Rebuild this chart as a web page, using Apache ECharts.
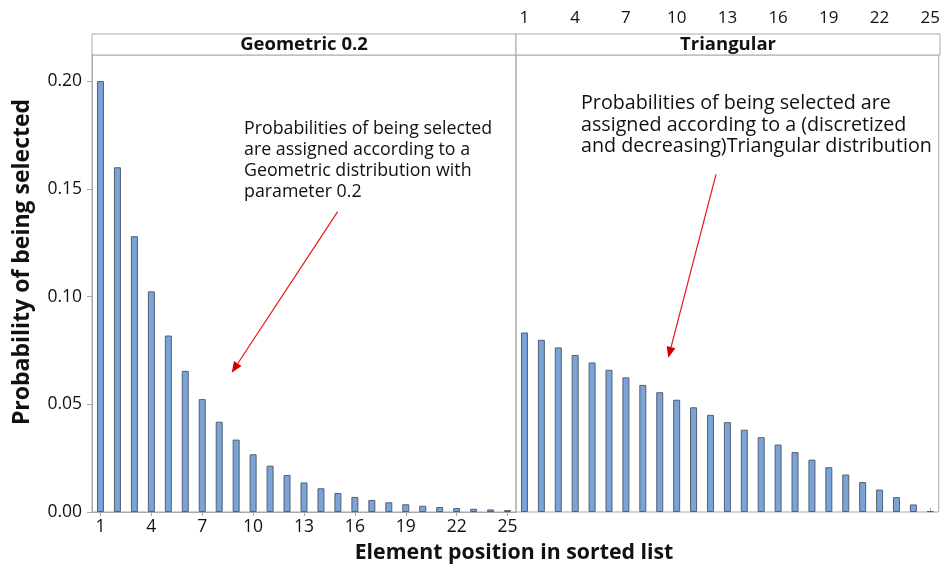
<!DOCTYPE html>
<html>
<head>
<meta charset="utf-8">
<title>Selection probabilities by position</title>
<script src="https://cdn.jsdelivr.net/npm/echarts@6/dist/echarts.min.js"></script>
<style>
  html, body { margin: 0; padding: 0; background: #fff; }
  #chart { width: 943px; height: 567px; }
</style>
</head>
<body>
<div id="chart"></div>
<script>
// Element positions in the sorted list
const positions = ['1','2','3','4','5','6','7','8','9','10','11','12','13',
  '14','15','16','17','18','19','20','21','22','23','24','25'];

// Geometric(0.2) selection probabilities
const geometricProb = [0.2000, 0.1600, 0.1280, 0.1024, 0.0819, 0.0655, 0.0524,
  0.0419, 0.0336, 0.0268, 0.0215, 0.0172, 0.0137, 0.0110, 0.0088, 0.0070,
  0.0056, 0.0045, 0.0036, 0.0029, 0.0023, 0.0018, 0.0015, 0.0012, 0.0009];

// Discretized, decreasing triangular selection probabilities
const triangularProb = [0.0833, 0.0799, 0.0764, 0.0729, 0.0694, 0.0660, 0.0625,
  0.0590, 0.0556, 0.0521, 0.0486, 0.0451, 0.0417, 0.0382, 0.0347, 0.0313,
  0.0278, 0.0243, 0.0208, 0.0174, 0.0139, 0.0104, 0.0069, 0.0035, 0.0004];

const yTicks = [0, 0.05, 0.10, 0.15, 0.20];
const panelTitles = ['Geometric 0.2', 'Triangular'];
const notes = [
  ['Probabilities of being selected', 'are assigned according to a',
   'Geometric distribution with', 'parameter 0.2'],
  ['Probabilities of being selected are', 'assigned according to a (discretized',
   'and decreasing)Triangular distribution']
];

const FONT = '"Open Sans", "Noto Sans", sans-serif';
const frame = '#a9a9a9';
const ink = '#111';

const chart = echarts.init(document.getElementById('chart'), null, { renderer: 'canvas' });

const P = { left: 92, top: 55, w: 424, h: 457, strip: 21 };

function arrow(x1, y1, x2, y2) {
  const ang = Math.atan2(y2 - y1, x2 - x1);
  const L = 11, W = 4.5;
  const bx = x2 - L * Math.cos(ang), by = y2 - L * Math.sin(ang);
  const nx = -Math.sin(ang) * W, ny = Math.cos(ang) * W;
  return [
    { type: 'line', shape: { x1: x1, y1: y1, x2: bx, y2: by },
      style: { stroke: '#e8141b', lineWidth: 1.2 }, z: 10 },
    { type: 'polygon', shape: { points: [[x2, y2], [bx + nx, by + ny], [bx - nx, by - ny]] },
      style: { fill: '#d40000' }, z: 10 }
  ];
}

function noteText(x, y, lines, size, lh) {
  return { type: 'text', left: x, top: y, z: 10,
    style: { text: lines.join('\n'), font: size + 'px ' + FONT, fill: ink, lineHeight: lh } };
}

const bottomAxisBase = {
  type: 'category', data: positions, boundaryGap: true,
  axisLine: { show: true, lineStyle: { color: frame } },
  axisTick: { show: true, interval: 2, alignWithLabel: true, length: 4, lineStyle: { color: frame } },
  axisLabel: { interval: 2, fontFamily: FONT, fontSize: 17.5, color: ink, margin: 6 }
};

const option = {
  backgroundColor: '#fff',
  animation: false,
  grid: [
    { left: P.left, top: P.top, width: P.w, height: P.h, show: true, borderColor: frame, borderWidth: 1 },
    { left: P.left + P.w, top: P.top, width: P.w, height: P.h, show: true, borderColor: frame, borderWidth: 1 }
  ],
  xAxis: [
    Object.assign({ gridIndex: 0, position: 'bottom' }, bottomAxisBase),
    Object.assign({}, bottomAxisBase, {
      gridIndex: 1, position: 'top', offset: P.strip,
      axisLine: { show: false },
      axisLabel: { interval: 2, fontFamily: FONT, fontSize: 17, color: ink, margin: 7 }
    })
  ],
  yAxis: [
    { type: 'value', gridIndex: 0, min: 0, max: 0.2121,
      splitLine: { show: false },
      axisLine: { show: true, lineStyle: { color: frame } },
      axisTick: { show: true, length: 5, customValues: yTicks, lineStyle: { color: frame } },
      axisLabel: { customValues: yTicks, fontFamily: FONT, fontSize: 17.5, color: ink, margin: 10,
        formatter: v => v.toFixed(2) } },
    { type: 'value', gridIndex: 1, min: 0, max: 0.2121,
      splitLine: { show: false }, axisLine: { show: false },
      axisTick: { show: false }, axisLabel: { show: false } }
  ],
  series: [
    { type: 'bar', xAxisIndex: 0, yAxisIndex: 0, data: geometricProb, barWidth: 7,
      itemStyle: { color: '#7aa3d8', borderColor: '#55606e', borderWidth: 1 } },
    { type: 'bar', xAxisIndex: 1, yAxisIndex: 1, data: triangularProb, barWidth: 7,
      itemStyle: { color: '#7aa3d8', borderColor: '#55606e', borderWidth: 1 } }
  ],
  graphic: [
    // facet strips
    { type: 'rect', shape: { x: P.left, y: P.top - P.strip, width: P.w, height: P.strip },
      style: { fill: '#fff', stroke: frame, lineWidth: 1 } },
    { type: 'rect', shape: { x: P.left + P.w, y: P.top - P.strip, width: P.w, height: P.strip },
      style: { fill: '#fff', stroke: frame, lineWidth: 1 } },
    { type: 'text', x: P.left + P.w / 2, y: P.top - P.strip / 2, z: 5,
      style: { text: panelTitles[0], font: 'bold 18.5px ' + FONT, fill: ink, align: 'center', verticalAlign: 'middle' } },
    { type: 'text', x: P.left + P.w * 1.5, y: P.top - P.strip / 2, z: 5,
      style: { text: panelTitles[1], font: 'bold 18.5px ' + FONT, fill: ink, align: 'center', verticalAlign: 'middle' } },
    // axis titles
    { type: 'text', x: 22, y: 262, rotation: Math.PI / 2,
      style: { text: 'Probability of being selected', font: 'bold 23px ' + FONT, fill: ink,
        align: 'center', verticalAlign: 'middle' } },
    { type: 'text', x: 514, y: 553,
      style: { text: 'Element position in sorted list', font: 'bold 21.3px ' + FONT, fill: ink,
        align: 'center', verticalAlign: 'middle' } },
    // annotations
    noteText(244, 118.5, notes[0], 17.8, 20.9),
    noteText(581, 92.5, notes[1], 19.7, 21.7)
  ].concat(arrow(337.7, 211.7, 231.7, 372.7), arrow(716, 174.3, 668.3, 357.7))
};

chart.setOption(option);
</script>
</body>
</html>
